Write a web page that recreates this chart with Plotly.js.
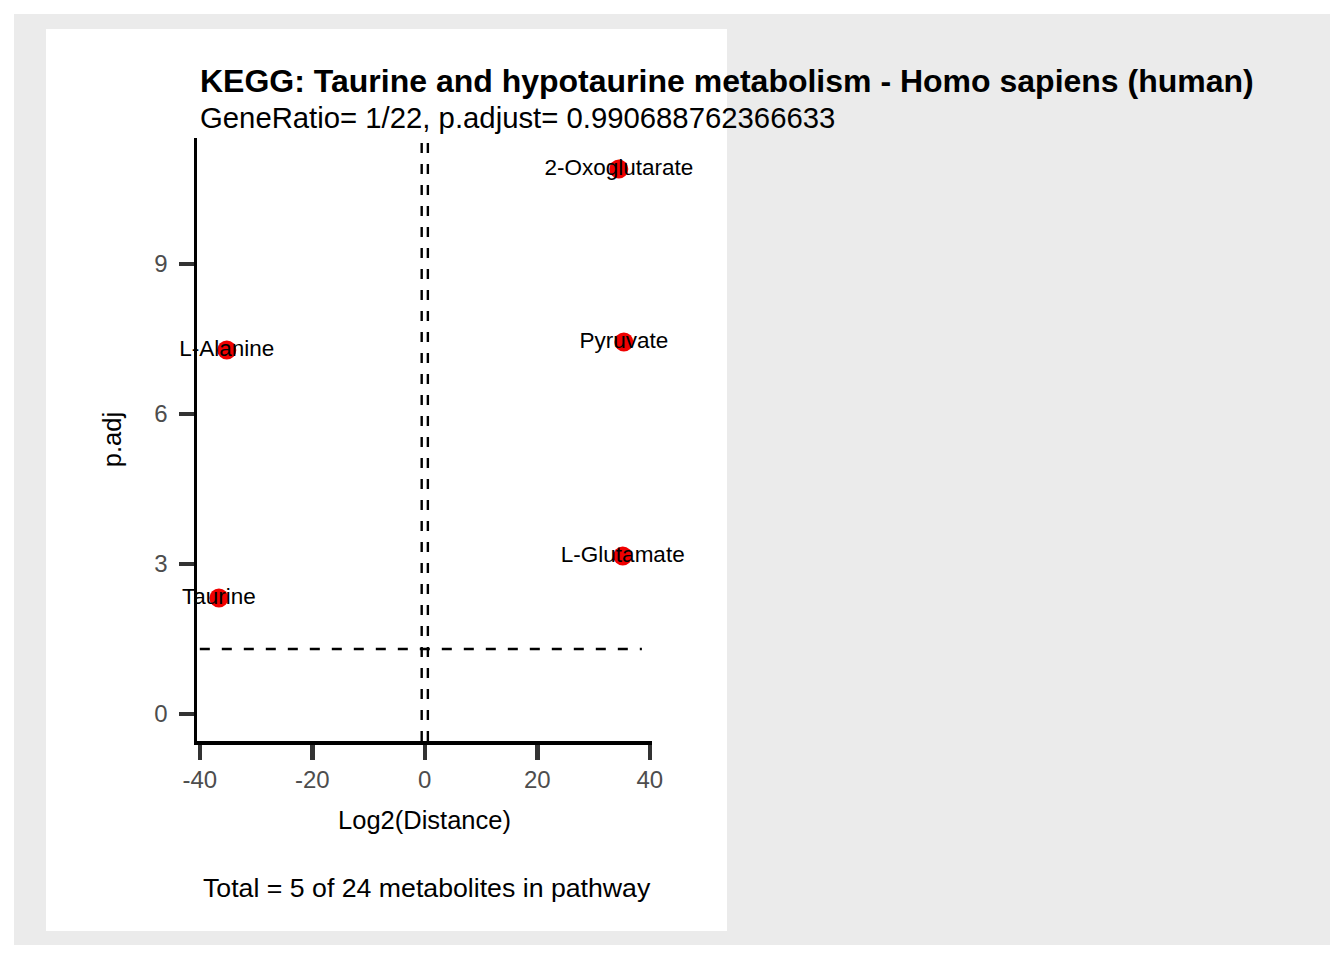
<!DOCTYPE html>
<html>
<head>
<meta charset="utf-8">
<script src="https://cdn.plot.ly/plotly-3.0.1.min.js"></script>
<style>html,body{margin:0;padding:0;background:#fff;}#chart{width:1344px;height:960px;}</style>
</head>
<body>
<div id="chart"></div>
<script>
// ---- data ----
const metabolites = ["2-Oxoglutarate", "Pyruvate", "L-Alanine", "L-Glutamate", "Taurine"];
const log2Distance = [34.5, 35.4, -35.2, 35.2, -36.6];
const pAdj = [10.9, 7.44, 7.28, 3.16, 2.32];
const vThresholds = [-0.55, 0.55];
const hThreshold = 1.3;
const hSpan = [-40, 38.6];
const xTicks = [-40, -20, 0, 20, 40];
const yTicks = [0, 3, 6, 9];
const titleText = "KEGG: Taurine and hypotaurine metabolism - Homo sapiens (human)";
const subtitleText = "GeneRatio= 1/22, p.adjust= 0.990688762366633";
const captionText = "Total = 5 of 24 metabolites in pathway";
const xTitle = "Log2(Distance)";
const yTitle = "p.adj";

// ---- layout geometry (pixels) ----
const W = 1344, H = 960;
const L = 197, R = 652, T = 138, B = 741;
const pw = R - L, ph = B - T;
const px = v => (v - L) / pw;
const py = v => (B - v) / ph;
const FONT = "Liberation Sans, Arial, sans-serif";

const shapes = [
  {type: "rect", xref: "paper", yref: "paper", layer: "below",
   x0: px(14), x1: px(1330), y0: py(945), y1: py(14), fillcolor: "#EBEBEB", line: {width: 0}},
  {type: "rect", xref: "paper", yref: "paper", layer: "below",
   x0: px(46), x1: px(727), y0: py(931), y1: py(29), fillcolor: "#FFFFFF", line: {width: 0}}
];
vThresholds.forEach(v => shapes.push({
  type: "line", xref: "x", yref: "paper", x0: v, x1: v, y0: 0, y1: 1,
  line: {color: "#000", width: 2.4, dash: "10px,11px"}
}));
shapes.push({type: "line", xref: "x", yref: "y", x0: hSpan[0], x1: hSpan[1], y0: hThreshold, y1: hThreshold,
  line: {color: "#000", width: 2.4, dash: "10px,12px"}});

const trace = {
  type: "scatter", mode: "markers+text",
  x: log2Distance, y: pAdj, text: metabolites,
  textposition: "middle center",
  textfont: {family: FONT, size: 22.5, color: "#000"},
  marker: {color: "#F00000", size: 19, line: {width: 0}},
  hoverinfo: "skip", cliponaxis: false
};

const axisCommon = {
  showgrid: false, zeroline: false, showline: true, linecolor: "#000", linewidth: 3.5,
  ticks: "outside", ticklen: 15, tickwidth: 4.5, tickcolor: "#333333",
  tickfont: {family: FONT, size: 24, color: "#4D4D4D"}, fixedrange: true
};

const layout = {
  width: W, height: H,
  paper_bgcolor: "#FFFFFF", plot_bgcolor: "rgba(0,0,0,0)",
  margin: {l: L, r: W - R, t: T, b: H - B, pad: 0},
  showlegend: false,
  xaxis: Object.assign({}, axisCommon, {
    range: [-40.5, 40.4], tickvals: xTicks, ticktext: xTicks.map(String), ticklabelstandoff: 0,
    title: {text: xTitle, font: {family: FONT, size: 25.5, color: "#000"}, standoff: 20}
  }),
  yaxis: Object.assign({}, axisCommon, {
    range: [-0.54, 11.52], tickvals: yTicks, ticktext: yTicks.map(String), ticklabelstandoff: 6,
    title: {text: yTitle, font: {family: FONT, size: 25.5, color: "#000"}, standoff: 26}
  }),
  shapes: shapes,
  annotations: [
    {xref: "paper", yref: "paper", x: px(198), y: py(81), xanchor: "left", yanchor: "middle",
     text: "<b>" + titleText + "</b>", showarrow: false, font: {family: FONT, size: 32, color: "#000"}},
    {xref: "paper", yref: "paper", x: px(198), y: py(118), xanchor: "left", yanchor: "middle",
     text: subtitleText, showarrow: false, font: {family: FONT, size: 29.3, color: "#000"}},
    {xref: "paper", yref: "paper", x: px(427), y: py(888), xanchor: "center", yanchor: "middle",
     text: captionText, showarrow: false, font: {family: FONT, size: 26.7, color: "#000"}}
  ]
};

Plotly.newPlot("chart", [trace], layout, {displayModeBar: false, staticPlot: true});
</script>
</body>
</html>
